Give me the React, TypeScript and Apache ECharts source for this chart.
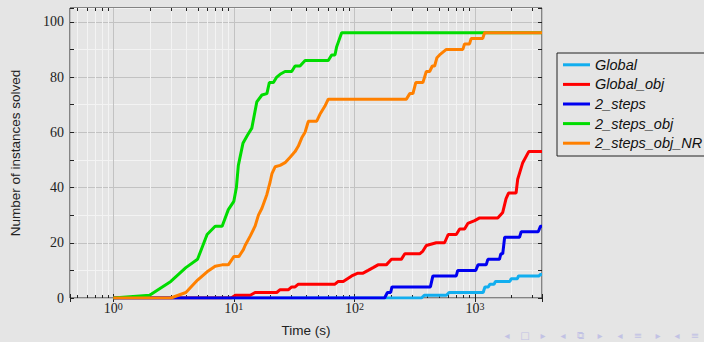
import React, { useEffect, useRef } from 'react';
import * as echarts from 'echarts';

// Cumulative number of solved instances against solving time (log scale)
const seriesNames = ['Global', 'Global_obj', '2_steps', '2_steps_obj', '2_steps_obj_NR'];
const seriesColors = ['#12aeef', '#ff0000', '#0000f0', '#00dc00', '#ff8000'];

const globalTime = [1, 360, 380, 580, 610, 1170, 1210, 1290, 1330, 1440, 1480, 1950, 2000, 2250, 2300, 3400, 3480, 3600];
const globalSolved = [0, 0, 1, 1, 2, 2, 4, 4, 5, 5, 6, 6, 7, 7, 8, 8, 8.5, 8.5];

const globalObjTime = [1, 9.5, 10.3, 13.7, 15, 22.7, 24.2, 28.4, 30.2, 32.2, 34.3, 69, 73.5, 80.8, 95, 107, 118, 130, 143, 157, 184, 203, 245, 262, 348, 370, 395, 478, 560, 600, 700, 747, 820, 873, 995, 1094, 1546, 1700, 1812, 1900, 2194, 2263, 2492, 2793, 3600];
const globalObjSolved = [0, 0, 1, 1, 2, 2, 3, 3, 4, 4, 5, 5, 6, 6, 8, 9, 9, 10, 11, 12, 12, 14, 14, 16, 16, 17, 19, 20, 20, 23, 23, 25, 25, 27, 28, 29, 29, 31, 36, 38, 38, 43, 49, 53, 53];

const twoStepsTime = [1, 178, 188, 200, 205, 427, 448, 700, 720, 1016, 1060, 1240, 1280, 1597, 1640, 1700, 1764, 2343, 2420, 3350, 3500, 3600];
const twoStepsSolved = [0, 0, 2, 2, 4, 4, 8, 8, 10, 10, 12, 12, 14, 14, 16, 16, 22, 22, 24, 24, 26, 26];

const twoStepsObjTime = [1, 2, 3, 4, 5, 6, 7, 8, 9, 10, 10.5, 10.9, 11.9, 13, 14.1, 15.5, 17.1, 18.8, 19.7, 21.3, 22.7, 24.2, 26.6, 30.2, 32.2, 35.4, 39, 60.7, 64.8, 69, 71.3, 78.4, 3600];
const twoStepsObjSolved = [0, 1, 6, 11, 14, 23, 26, 26, 32, 35, 40, 48, 56, 59, 61.5, 71, 73.5, 74, 78, 78, 80, 81, 82, 82, 84, 84, 86, 86, 88, 88, 91, 96, 96];

const twoStepsObjNrTime = [1, 3, 4, 5, 6, 7, 8, 9, 10, 11, 12, 12.4, 13.7, 15, 16, 17.1, 18.8, 20, 20.7, 22, 24.2, 26.6, 29.3, 32.2, 34.3, 36.6, 39, 41.5, 48.7, 51.8, 57, 60.7, 270, 288, 306, 323, 370, 395, 421, 443, 463, 484, 509, 579, 794, 820, 902, 931, 1162, 1200, 3600];
const twoStepsObjNrSolved = [0, 0, 2, 6.5, 9.5, 11.5, 12, 12, 15, 15, 17.5, 19, 22.5, 26, 30, 32.5, 37.5, 42, 45, 47.5, 48, 49, 51, 53, 55, 58, 60, 64, 64, 66.5, 69.5, 72, 72, 74, 74, 78, 78, 82, 82, 84, 84, 87, 88, 90, 90, 92, 92, 94, 94, 96, 96];

// Minor (2..9 per decade) positions on the time axis
const minorTimeTicks = [0.5, 0.6, 0.7, 0.8, 0.9, 2, 3, 4, 5, 6, 7, 8, 9, 20, 30, 40, 50, 60, 70, 80, 90, 200, 300, 400, 500, 600, 700, 800, 900, 2000, 3000];

const TIME_MIN = 0.4375;
const TIME_MAX = 3600;
const SOLVED_MAX = 105;

const seriesTimes = [globalTime, globalObjTime, twoStepsTime, twoStepsObjTime, twoStepsObjNrTime];
const seriesSolved = [globalSolved, globalObjSolved, twoStepsSolved, twoStepsObjSolved, twoStepsObjNrSolved];

// Slide navigation symbols in the bottom-right corner
const navGlyphs: [number, string][] = [
  [507, '◂'], [525, '□'], [543, '▸'], [563, '◂'], [580, '⧉'], [600, '▸'],
  [620, '◂'], [638, '≡'], [658, '▸'], [677, '◂'], [695, '≡'],
];

const BG = '#e5e5e5';
const MAJOR_GRID = '#c2c2c2';
const MINOR_GRID = '#f3f3f3';
const INK = '#222';

export default function App() {
  const ref = useRef<HTMLDivElement>(null);

  useEffect(() => {
    document.body.style.margin = '0';
    document.body.style.background = BG;
    if (!ref.current) return;
    const chart = echarts.init(ref.current, undefined, { renderer: 'svg' });

    const serif = 'Liberation Serif';
    const sans = 'Liberation Sans';

    const isPow10 = (v: number) => {
      const l = Math.log10(v);
      return Math.abs(l - Math.round(l)) < 1e-6;
    };

    const lineSeries = seriesNames.map((name, i) => ({
      name,
      type: 'line',
      data: seriesTimes[i].map((t, k) => [t, seriesSolved[i][k]]),
      showSymbol: false,
      symbol: 'none',
      color: seriesColors[i],
      lineStyle: { width: 3, color: seriesColors[i] },
      z: 3 + i,
      clip: true,
    }));

    const option: any = {
      animation: false,
      backgroundColor: BG,
      grid: {
        left: 69,
        right: 162,
        top: 8,
        bottom: 42,
        show: true,
        borderColor: INK,
        borderWidth: 1,
        backgroundColor: 'transparent',
      },
      legend: {
        data: seriesNames,
        orient: 'vertical',
        left: 557,
        top: 53,
        icon: 'rect',
        itemWidth: 27,
        itemHeight: 3,
        itemGap: 4.6,
        padding: [4.3, 4, 5.3, 6],
        borderColor: INK,
        borderWidth: 1,
        backgroundColor: BG,
        selectedMode: false,
        textStyle: {
          fontFamily: sans,
          fontStyle: 'italic',
          fontSize: 14.5,
          lineHeight: 14,
          color: '#111',
        },
      },
      xAxis: [
        {
          type: 'log',
          logBase: 10,
          min: TIME_MIN,
          max: TIME_MAX,
          position: 'bottom',
          name: 'Time (s)',
          nameLocation: 'middle',
          nameGap: 25,
          nameTextStyle: { fontFamily: sans, fontSize: 13.5, color: INK },
          axisLine: { show: false },
          axisTick: { show: true, inside: true, length: 4, lineStyle: { color: INK } },
          splitLine: { show: true, lineStyle: { color: MAJOR_GRID, width: 1 } },
          axisLabel: {
            margin: 3,
            formatter: (v: number) => (isPow10(v) ? `{b|10}{s|${Math.round(Math.log10(v))}}` : ''),
            rich: {
              b: { fontFamily: serif, fontSize: 14, lineHeight: 14, color: INK, verticalAlign: 'bottom' },
              s: { fontFamily: serif, fontSize: 10, lineHeight: 10, color: INK, padding: [0, 0, 7, 0], verticalAlign: 'top' },
            },
          },
        },
        {
          type: 'log',
          logBase: 10,
          min: TIME_MIN,
          max: TIME_MAX,
          position: 'top',
          axisLine: { show: false },
          axisTick: { show: true, inside: true, length: 4, lineStyle: { color: INK } },
          splitLine: { show: false },
          axisLabel: { show: false },
        },
      ],
      yAxis: [
        {
          type: 'value',
          min: 0,
          max: SOLVED_MAX,
          interval: 10,
          position: 'left',
          name: 'Number of instances solved',
          nameLocation: 'middle',
          nameGap: 48,
          nameTextStyle: { fontFamily: sans, fontSize: 13.5, color: INK },
          axisLine: { show: false },
          axisTick: { show: true, inside: true, length: 4, lineStyle: { color: INK } },
          splitLine: { show: true, lineStyle: { color: [MAJOR_GRID, MINOR_GRID], width: 1 } },
          axisLabel: {
            margin: 6,
            fontFamily: serif,
            fontSize: 14,
            color: INK,
            formatter: (v: number) => (v % 20 === 0 && v <= 100 ? String(v) : ''),
          },
        },
        {
          type: 'value',
          min: 0,
          max: SOLVED_MAX,
          interval: 10,
          position: 'right',
          axisLine: { show: false },
          axisTick: { show: true, inside: true, length: 4, lineStyle: { color: INK } },
          splitLine: { show: false },
          axisLabel: { show: false },
        },
      ],
      series: [
        {
          name: 'minor-grid',
          type: 'custom',
          xAxisIndex: 0,
          yAxisIndex: 0,
          silent: true,
          z: 1,
          data: minorTimeTicks.map((t) => [t, 0]),
          renderItem: (params: any, api: any) => {
            const cs = params.coordSys;
            const x = Math.round(api.coord([api.value(0), 0])[0]) + 0.5;
            const top = cs.y;
            const bottom = cs.y + cs.height;
            return {
              type: 'group',
              children: [
                { type: 'line', shape: { x1: x, y1: top, x2: x, y2: bottom }, style: { stroke: MINOR_GRID, lineWidth: 1 } },
                { type: 'line', shape: { x1: x, y1: bottom, x2: x, y2: bottom - 3 }, style: { stroke: INK, lineWidth: 1 } },
                { type: 'line', shape: { x1: x, y1: top, x2: x, y2: top + 3 }, style: { stroke: INK, lineWidth: 1 } },
              ],
            };
          },
        },
        ...lineSeries,
      ],
      graphic: navGlyphs.map(([x, g]) => ({
        type: 'text',
        x,
        y: 335,
        silent: true,
        style: {
          text: g,
          fill: '#c2c2e4',
          fontSize: 10,
          fontFamily: 'DejaVu Sans',
          align: 'center',
          verticalAlign: 'middle',
        },
      })),
    };

    chart.setOption(option);
    return () => chart.dispose();
  }, []);

  return <div ref={ref} style={{ width: 704, height: 342, background: BG }} />;
}
